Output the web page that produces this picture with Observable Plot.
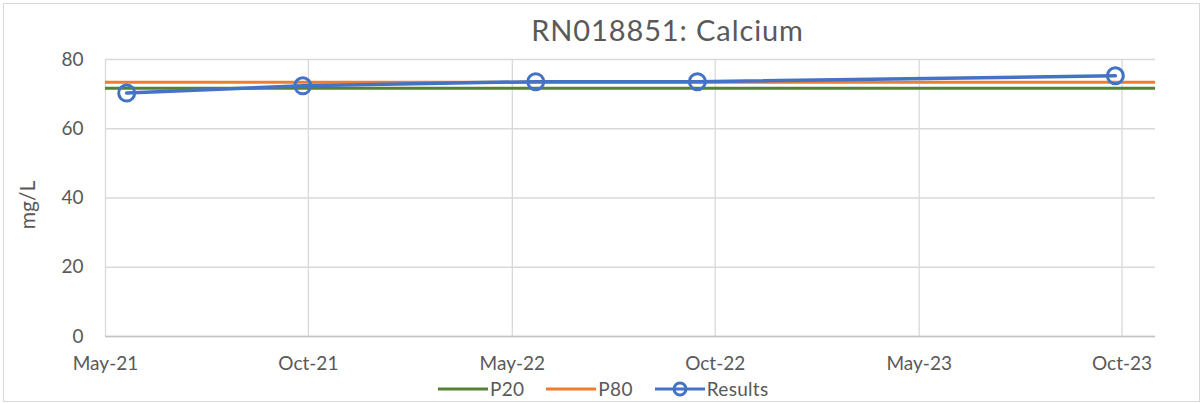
<!DOCTYPE html>
<html>
<head>
<meta charset="utf-8">
<script src="https://cdn.jsdelivr.net/npm/d3@7"></script>
<script src="https://cdn.jsdelivr.net/npm/@observablehq/plot@0.6"></script>
<style>
  html, body { margin: 0; padding: 0; background: #fff; }
  body { width: 1203px; height: 403px; position: relative; overflow: hidden; font-family: Lato, "Open Sans", sans-serif; color: #595959; }
  #frame { position: absolute; left: 3px; top: 3px; width: 1197px; height: 399px; box-sizing: border-box; border: 1.5px solid #d9d9d9; }
  #title { position: absolute; left: 0; width: 1335px; top: 11px; text-align: center; font-size: 29px; letter-spacing: 0.9px; line-height: 38px; color: #595959; }
  #chart { position: absolute; left: 0; top: 0; }
  #ylab { position: absolute; left: 26px; top: 205px; transform: translate(-50%, -50%) rotate(-90deg); font-size: 21px; color: #595959; white-space: nowrap; }
  #legend { position: absolute; left: 438px; top: 377px; display: flex; align-items: center; font-size: 19px; letter-spacing: 0.3px; line-height: 24px; color: #595959; }
  #legend .item { display: flex; align-items: center; margin-right: 22px; }
  #legend svg { margin-right: 2px; }
</style>
</head>
<body>
<div id="frame"></div>
<div id="title">RN018851: Calcium</div>
<div id="chart"></div>
<div id="ylab">mg/L</div>
<div id="legend"></div>
<script>
// ---- data ----
const sampleDates = ["2021-05-20", "2021-10-25", "2022-05-22", "2022-10-14", "2023-10-24"];
const resultValues = [70.3, 72.4, 73.6, 73.6, 75.3];
const p20Value = 71.7;
const p80Value = 73.4;
const xTickDates = ["2021-05-01", "2021-10-30", "2022-05-01", "2022-10-30", "2023-05-01", "2023-10-30"];
const xTickLabels = ["May-21", "Oct-21", "May-22", "Oct-22", "May-23", "Oct-23"];
const yTicks = [0, 20, 40, 60, 80];
const seriesNames = ["P20", "P80", "Results"];
const seriesColors = ["#548235", "#ED7D31", "#4472C4"];

// ---- build ----
const parse = d3.utcParse("%Y-%m-%d");
const results = sampleDates.map((d, i) => ({date: parse(d), value: resultValues[i]}));
const ticks = xTickDates.map(parse);
const labelOf = new Map(ticks.map((t, i) => [+t, xTickLabels[i]]));

const chart = Plot.plot({
  width: 1203,
  height: 380,
  marginLeft: 105,
  marginRight: 48,
  marginTop: 59,
  marginBottom: 44,
  style: {fontFamily: "Lato, 'Open Sans', sans-serif", fontSize: "19px", color: "#595959", background: "transparent"},
  x: {type: "utc", domain: [parse("2021-05-01"), parse("2023-11-29")]},
  y: {domain: [0, 80]},
  marks: [
    Plot.gridY(yTicks, {stroke: "#d9d9d9", strokeOpacity: 1, strokeWidth: 1.3}),
    Plot.gridX(ticks, {stroke: "#d9d9d9", strokeOpacity: 1, strokeWidth: 1.3}),
    Plot.ruleY([0], {stroke: "#c4c4c4", strokeWidth: 1.3}),
    Plot.axisY(yTicks, {tickSize: 0, tickPadding: 22, label: null, fill: "#595959"}),
    Plot.axisX(ticks, {tickSize: 0, tickPadding: 20, label: null, fill: "#595959", tickFormat: d => labelOf.get(+d)}),
    Plot.ruleY([p20Value], {stroke: seriesColors[0], strokeWidth: 3}),
    Plot.ruleY([p80Value], {stroke: seriesColors[1], strokeWidth: 3}),
    Plot.line(results, {x: "date", y: "value", stroke: seriesColors[2], strokeWidth: 3.5}),
    Plot.dot(results, {x: "date", y: "value", r: 8, stroke: seriesColors[2], strokeWidth: 3, fill: "none"})
  ]
});
document.getElementById("chart").appendChild(chart);

// ---- legend ----
const legend = document.getElementById("legend");
seriesNames.forEach((name, i) => {
  const item = document.createElement("div");
  item.className = "item";
  const marker = i === 2
    ? `<circle cx="25" cy="12" r="6" fill="none" stroke="${seriesColors[i]}" stroke-width="3"/>`
    : "";
  item.innerHTML = `<svg width="50" height="24"><line x1="0" x2="50" y1="12" y2="12" stroke="${seriesColors[i]}" stroke-width="3"/>${marker}</svg><span>${name}</span>`;
  legend.appendChild(item);
});
</script>
</body>
</html>
